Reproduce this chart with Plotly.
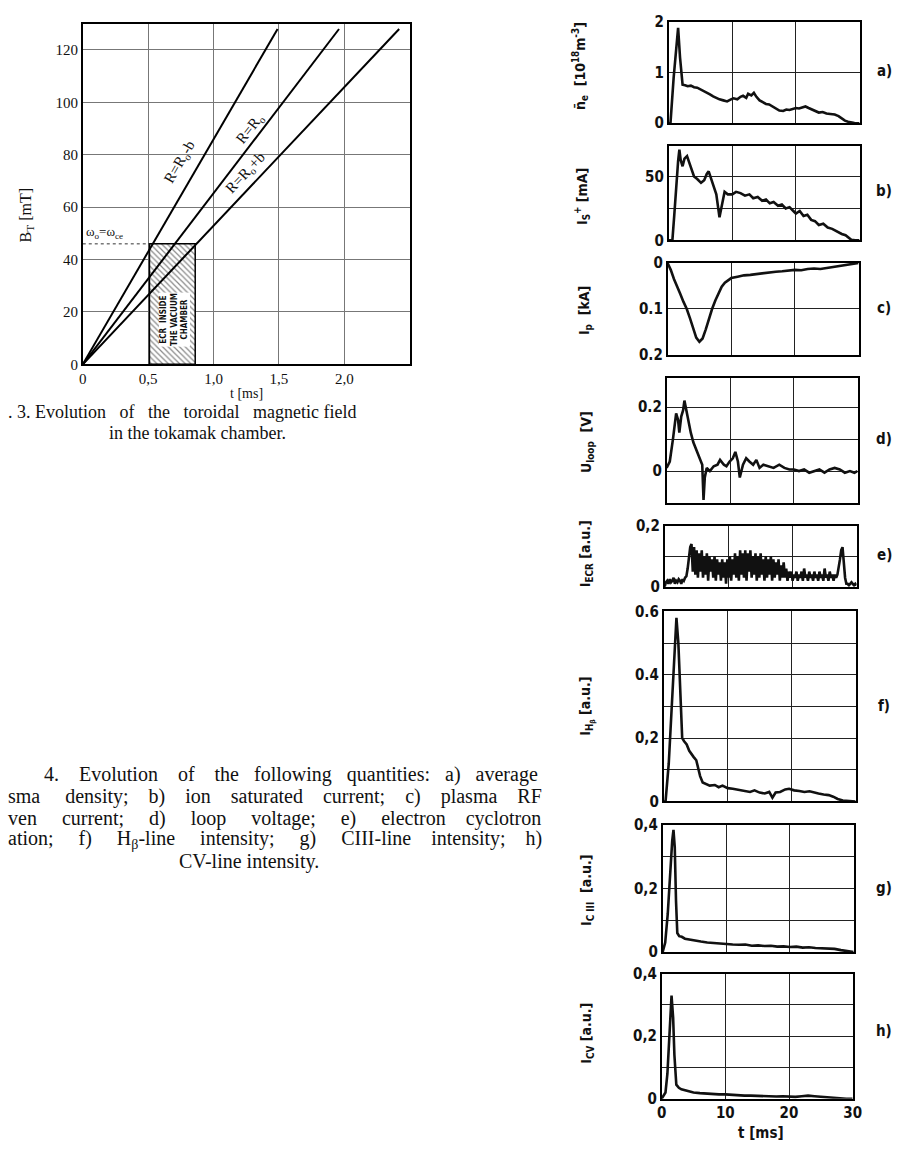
import plotly.graph_objects as go
import numpy as np

W, H = 904, 1154

# ---------------- Fig. 3 data ----------------
line_names = ["R=R<sub>o</sub>-b", "R=R<sub>o</sub>", "R=R<sub>o</sub>+b"]
line_t = [[0, 1.49], [0, 1.96], [0, 2.42]]
line_B = [[0, 128], [0, 128], [0, 128]]
ecr_t = [0.51, 0.86]
ecr_B = [0, 46]
x3_ticks = [0, 0.5, 1.0, 1.5, 2.0]
x3_text = ["0", "0,5", "1,0", "1,5", "2,0"]
y3_ticks = [0, 20, 40, 60, 80, 100, 120]

# ---------------- Fig. 4 data ----------------
t_a = [0, 0.3, 0.8, 1.2, 1.5, 1.8, 2.2, 2.6, 3, 3.5, 4, 4.5, 5, 5.5, 6, 6.5, 7, 7.5, 8, 8.6,
       9.2, 9.8, 10.2, 10.8, 11.3, 11.7, 12.2, 12.5, 13, 13.4, 13.8, 14.3, 14.8, 15.3, 15.8, 16.4,
       17, 17.4, 18, 18.5, 19, 19.5, 20, 20.5, 21, 21.5, 22, 22.5, 23, 23.6, 24.2, 24.8, 25.4,
       26.1, 26.7, 27.2, 27.7, 28.2, 28.7, 29.2, 30]
ne = [0, 0, 0.9, 1.5, 1.88, 1.3, 0.76, 0.75, 0.73, 0.74, 0.71, 0.70, 0.67, 0.64, 0.60, 0.57,
      0.53, 0.50, 0.47, 0.45, 0.43, 0.47, 0.49, 0.47, 0.52, 0.54, 0.50, 0.58, 0.55, 0.60, 0.52,
      0.45, 0.41, 0.38, 0.37, 0.33, 0.28, 0.25, 0.24, 0.27, 0.26, 0.28, 0.30, 0.29, 0.31, 0.33,
      0.30, 0.27, 0.24, 0.21, 0.22, 0.19, 0.18, 0.17, 0.14, 0.10, 0.05, 0.03, 0.01, 0.005, 0]

t_b = [0, 0.6, 0.9, 1.2, 1.5, 1.7, 1.9, 2.2, 2.5, 2.9, 3.3, 3.7, 4.0, 4.5, 5.1, 5.6, 6.0, 6.3,
       6.7, 7.1, 7.5, 8.0, 8.4, 8.8, 9.3, 10, 10.6, 11.3, 12, 12.7, 13.3, 14, 14.7, 15.3, 15.9,
       16.5, 17.2, 17.8, 18.4, 19, 19.6, 20, 20.6, 21.2, 21.8, 22.4, 23, 23.6, 24.3, 25, 25.7,
       26.4, 27.2, 27.8, 28.3, 28.7, 29.3, 30]
i_sat = [0, 0, 20, 45, 62, 71, 63, 58, 64, 66, 60, 55, 50, 48, 45, 47, 52, 54, 48, 42, 36, 18,
         28, 38, 36, 36, 38, 37, 35, 36, 33, 34, 31, 32, 29, 30, 27, 28, 25, 26, 23, 21, 23, 19,
         20, 16, 15, 12, 13, 10, 9, 7, 5, 4, 2, 0.5, 0, 0]

t_c = [0, 0.5, 1, 1.5, 2, 2.5, 3, 3.5, 4, 4.5, 5, 5.5, 6, 6.5, 7, 7.5, 8, 8.5, 9, 9.5, 10,
       11, 12, 13, 14, 15, 16, 17, 18, 19, 20, 21, 22, 23, 24, 25, 26, 27, 28, 29, 30]
i_p = [0, 0.015, 0.035, 0.05, 0.068, 0.085, 0.1, 0.12, 0.14, 0.163, 0.172, 0.165, 0.145, 0.12,
       0.1, 0.082, 0.065, 0.052, 0.043, 0.037, 0.033, 0.03, 0.027, 0.026, 0.024, 0.022, 0.021,
       0.019, 0.018, 0.016, 0.015, 0.016, 0.013, 0.012, 0.013, 0.011, 0.009, 0.007, 0.004,
       0.002, 0]

t_d = [0, 0.5, 1.0, 1.5, 1.8, 2.0, 2.3, 2.6, 2.8, 3.1, 3.4, 3.8, 4.2, 4.6, 4.9, 5.3, 5.6, 5.8,
       6.0, 6.3, 6.8, 7.4, 8.0, 8.4, 9.0, 9.4, 9.9, 10.4, 10.8, 11.2, 11.5, 12.0, 12.5, 13.0,
       13.6, 14.1, 14.6, 15.2, 16.0, 16.8, 17.7, 18.5, 19.3, 20.0, 20.8, 21.6, 22.4, 23.2, 24.0,
       24.8, 25.6, 26.4, 27.2, 28.0, 28.8, 29.5, 30]
u_loop = [0.01, 0.03, 0.1, 0.18, 0.16, 0.12, 0.17, 0.19, 0.22, 0.19, 0.15, 0.12, 0.09, 0.07,
          0.05, 0.03, 0.02, -0.09, -0.02, 0.01, 0.0, 0.015, 0.02, 0.035, 0.02, 0.015, 0.03, 0.04,
          0.06, 0.03, -0.02, 0.02, 0.04, 0.03, 0.02, 0.035, 0.01, 0.02, 0.015, 0.01, 0.02, 0.01,
          0.005, 0.005, 0.0, 0.005, -0.005, 0.0, 0.005, -0.005, 0.005, 0.01, 0.005, -0.005, 0.0,
          -0.005, 0.0]

# ECR signal sampled every 0.2 ms
i_ecr = [0.0, 0.015, 0.02, 0.01, 0.025, 0.015, 0.02, 0.03, 0.01, 0.02, 0.015, 0.025, 0.02, 0.01,
         0.025, 0.02, 0.03, 0.035,
         0.06, 0.1, 0.13, 0.14,
         0.05, 0.13, 0.04, 0.12, 0.03, 0.11, 0.05, 0.12, 0.03, 0.10, 0.04, 0.11, 0.02, 0.10, 0.05,
         0.09, 0.03, 0.10, 0.02, 0.09, 0.04, 0.08, 0.02, 0.09, 0.03, 0.08, 0.01, 0.09, 0.03, 0.10,
         0.02, 0.09, 0.04, 0.11, 0.03, 0.10, 0.02, 0.12, 0.04, 0.11, 0.03, 0.12, 0.02, 0.11, 0.05,
         0.12, 0.03, 0.10, 0.04, 0.11, 0.02, 0.10, 0.03, 0.11, 0.04, 0.09, 0.02, 0.10, 0.03, 0.09,
         0.04, 0.10, 0.02, 0.09, 0.03, 0.08, 0.04, 0.09, 0.02, 0.07, 0.03, 0.08, 0.03, 0.06, 0.02,
         0.05, 0.03, 0.05,
         0.02, 0.04, 0.03, 0.05, 0.02, 0.04, 0.03, 0.05, 0.02, 0.06, 0.03, 0.04, 0.02, 0.05, 0.03,
         0.04, 0.02, 0.05, 0.03, 0.04, 0.02, 0.05, 0.03, 0.04, 0.02, 0.06, 0.03, 0.04, 0.02, 0.05,
         0.03, 0.04, 0.02, 0.04, 0.03, 0.04, 0.06, 0.09, 0.12, 0.13, 0.08, 0.03, 0.01, 0.01, 0.005,
         0.01, 0.015, 0.01, 0.005, 0.01, 0.005]
t_e = list(np.round(np.arange(len(i_ecr)) * 0.2, 1))

t_f = [0, 0.3, 0.8, 1.3, 1.7, 2.0, 2.3, 2.6, 2.9, 3.2, 3.6, 4.0, 4.3, 4.7, 5.1, 5.4, 5.7, 6.1,
       6.6, 7.2, 8.0, 8.6, 9.2, 10, 10.8, 11.5, 12.2, 12.8, 13.5, 14.2, 15, 15.8, 16.5, 17, 17.5,
       18.2, 19, 19.6, 20.4, 21.2, 22, 22.8, 23.5, 24.2, 25, 25.8, 26.5, 27.2, 28, 29, 30]
i_hb = [0, 0.0, 0.12, 0.3, 0.48, 0.58, 0.5, 0.32, 0.2, 0.19, 0.18, 0.16, 0.15, 0.14, 0.13, 0.1,
        0.08, 0.06, 0.055, 0.05, 0.052, 0.045, 0.05, 0.042, 0.04, 0.038, 0.035, 0.033, 0.03,
        0.035, 0.028, 0.025, 0.03, 0.012, 0.028, 0.03, 0.038, 0.04, 0.035, 0.033, 0.03, 0.032,
        0.028, 0.025, 0.022, 0.02, 0.015, 0.008, 0.003, 0.001, 0]

t_g = [0, 0.4, 0.8, 1.2, 1.5, 1.7, 1.9, 2.1, 2.3, 2.6, 3, 3.5, 4, 5, 6, 7, 8, 9, 10, 11, 12, 13,
       14, 15, 16, 17, 18, 19, 20, 21, 22, 23, 24, 25, 26, 27, 28, 29, 30]
i_c3 = [0, 0.03, 0.12, 0.26, 0.35, 0.385, 0.33, 0.16, 0.06, 0.05, 0.048, 0.042, 0.04, 0.035,
        0.033, 0.03, 0.028, 0.027, 0.025, 0.024, 0.023, 0.024, 0.02, 0.021, 0.019, 0.02, 0.017,
        0.018, 0.016, 0.017, 0.014, 0.015, 0.013, 0.012, 0.011, 0.01, 0.006, 0.002, 0]

t_h = [0, 0.3, 0.6, 0.9, 1.2, 1.55, 1.8, 2.0, 2.3, 2.7, 3.1, 4, 5, 6, 7, 8, 9, 10, 11, 12, 13,
       14, 15, 16, 17, 18, 19, 20, 21, 22, 23, 24, 25, 26, 27, 28, 29, 30]
i_c5 = [0, 0.01, 0.02, 0.08, 0.22, 0.33, 0.26, 0.14, 0.045, 0.035, 0.03, 0.025, 0.02, 0.018,
        0.016, 0.015, 0.014, 0.014, 0.012, 0.011, 0.01, 0.01, 0.009, 0.008, 0.008, 0.007, 0.008,
        0.007, 0.006, 0.008, 0.01, 0.008, 0.006, 0.005, 0.004, 0.002, 0.0, 0.0]

x4_ticks = [0, 10, 20, 30]

panels = [
    # key, t, y, ylabel, panel label, yrange, tickvals, ticktext
    ("a", t_a, ne, "n\u0304<sub>e</sub>  [10<sup>18</sup>m<sup>-3</sup>]", "a)", [0, 2], [0, 1, 2], ["0", "1", "2"]),
    ("b", t_b, i_sat, "I<sub>S</sub><sup>+</sup> [mA]", "b)", [0, 74], [0, 25, 50], ["0", "", "50"]),
    ("c", t_c, i_p, "I<sub>p</sub>  [kA]", "c)", [0.2, 0], [0, 0.1, 0.2], ["0", "0.1", "0.2"]),
    ("d", t_d, u_loop, "U<sub>loop</sub>  [V]", "d)", [-0.1, 0.29], [0, 0.1, 0.2], ["0", "", "0.2"]),
    ("e", t_e, i_ecr, "I<sub>ECR</sub> [a.u.]", "e)", [0, 0.2], [0, 0.1, 0.2], ["0", "", "0,2"]),
    ("f", t_f, i_hb, "I<sub>H<sub>\u03b2</sub></sub> [a.u.]", "f)", [0, 0.6], [0, 0.1, 0.2, 0.3, 0.4, 0.5, 0.6], ["0", "", "0,2", "", "0.4", "", "0.6"]),
    ("g", t_g, i_c3, "I<sub>C III</sub>  [a.u.]", "g)", [0, 0.4], [0, 0.1, 0.2, 0.3, 0.4], ["0", "", "0,2", "", "0,4"]),
    ("h", t_h, i_c5, "I<sub>CV</sub> [a.u.]", "h)", [0, 0.4], [0, 0.1, 0.2, 0.3, 0.4], ["0", "", "0,2", "", "0,4"]),
]

# ---------------- layout geometry (page pixels) ----------------
def px(x):
    return x / W

def py(y):
    return 1 - y / H

def dx(l, r):
    return [px(l), px(r)]

def dy(top, bottom):
    return [py(bottom), py(top)]

SERIF = "Liberation Serif, DejaVu Serif, serif"
COND = "DejaVu Sans Condensed, Liberation Sans Narrow, DejaVu Sans, sans-serif"
NB = "\u00a0"

panel_geom = [  # left, right, top, bottom
    (674, 868, 13, 116),
    (674, 868, 139, 235),
    (673, 867, 258, 351),
    (672, 866, 375, 502),
    (670, 865, 525, 587),
    (669, 864, 612, 805),
    (668, 862, 829, 958),
    (667, 861, 980, 1107),
]
ylabel_pos = [(584, 58), (586, 190), (589, 306), (591, 440), (591, 553), (591, 708), (591, 895), (591, 1040)]
plabel_y = [63, 185, 304, 437, 555, 708, 893, 1038]

fig = go.Figure()

# ---- Fig. 3 traces ----
fig.add_trace(go.Scatter(
    x=[ecr_t[0], ecr_t[1], ecr_t[1], ecr_t[0], ecr_t[0]],
    y=[ecr_B[0], ecr_B[0], ecr_B[1], ecr_B[1], ecr_B[0]],
    fill="toself", mode="lines",
    fillpattern=dict(shape="\\", fgcolor="#111", bgcolor="white", size=4, solidity=0.3),
    line=dict(color="black", width=1.5), xaxis="x", yaxis="y", showlegend=False, hoverinfo="skip"))
fig.add_trace(go.Scatter(x=[0, ecr_t[0]], y=[ecr_B[1], ecr_B[1]], mode="lines",
                         line=dict(color="#333", width=1, dash="dot"), xaxis="x", yaxis="y",
                         showlegend=False))
for lt, lb in zip(line_t, line_B):
    fig.add_trace(go.Scatter(x=lt, y=lb, mode="lines", line=dict(color="black", width=2),
                             xaxis="x", yaxis="y", showlegend=False))

# ---- Fig. 4 traces ----
for i, (key, t, v, *_rest) in enumerate(panels):
    n = i + 2
    fig.add_trace(go.Scatter(x=t, y=v, mode="lines", line=dict(color="#111", width=2.6),
                             xaxis=f"x{n}", yaxis=f"y{n}", showlegend=False))

layout = dict(
    width=W, height=H, margin=dict(l=0, r=0, t=0, b=0),
    paper_bgcolor="white", plot_bgcolor="white", showlegend=False,
)

axis_common = dict(showline=True, mirror=True, linecolor="black", linewidth=1.5,
                   showgrid=True, gridcolor="#555", gridwidth=1, zeroline=False, ticks="")

layout["xaxis"] = dict(axis_common, domain=dx(79, 411), range=[0, 2.5], tickvals=x3_ticks,
                       ticktext=x3_text, tickfont=dict(family=SERIF, size=15, color="#111"),
                       anchor="y", gridcolor="#777")
layout["yaxis"] = dict(axis_common, domain=dy(15, 361), range=[0, 130], tickvals=y3_ticks,
                       tickfont=dict(family=SERIF, size=15, color="#111"), anchor="x",
                       gridcolor="#777")

for i, (key, t, v, ylab, plab, yr, tv, tt) in enumerate(panels):
    n = i + 2
    l, r, tp, bt = panel_geom[i]
    layout[f"xaxis{n}"] = dict(axis_common, domain=dx(l, r), range=[0, 30], tickvals=x4_ticks,
                               showticklabels=(key == "h"), anchor=f"y{n}", gridcolor="#222",
                               tickfont=dict(family=COND, size=15, color="#111", weight="bold"))
    layout[f"yaxis{n}"] = dict(axis_common, domain=dy(tp, bt), range=yr, tickvals=tv, ticktext=tt,
                               anchor=f"x{n}", gridcolor="#222",
                               tickfont=dict(family=COND, size=15, color="#111", weight="bold"))

ann = []

def note(x, y, text, font, xref="paper", yref="paper", xanchor="center", angle=0, **kw):
    if xref == "paper":
        x = px(x)
    if yref == "paper":
        y = py(y)
    d = dict(x=x, y=y, xref=xref, yref=yref, text=text, showarrow=False, xanchor=xanchor,
             yanchor="middle", textangle=angle, font=font)
    d.update(kw)
    ann.append(d)

serif = lambda s: dict(family=SERIF, size=s, color="#111")
cond = lambda s: dict(family=COND, size=s, color="#111", weight="bold")

# Fig. 3 labels
note(22, 210, "B<sub>T</sub> [mT]", serif(16), angle=-90)
note(245, 391, "t [ms]", serif(14))
label_pos = [(0.74, 77, -60), (1.28, 90, -52), (1.25, 73, -47)]
for name, (lx, ly, ang) in zip(line_names, label_pos):
    note(lx, ly, name, serif(15), xref="x", yref="y", angle=ang)
note(0.01, 50.5, "\u03c9<sub>o</sub>=\u03c9<sub>ce</sub>", serif(13), xref="x", yref="y",
     xanchor="left")
note(0.70, 17, "ECR" + NB * 2 + "INSIDE<br>THE VACUUM<br>CHAMBER", dict(family=COND, size=8,
     color="#111", weight="bold"), xref="x", yref="y", angle=-90, bgcolor="white", borderpad=0)

# Fig. 3 caption
g3 = NB * 2 + " "
note(1, 409, ". 3. Evolution" + g3 + "of" + g3 + "the" + g3 + "toroidal" + g3 + "magnetic field",
     serif(18), xanchor="left")
note(196, 431, "in the tokamak chamber.", serif(18))

# Fig. 4 labels
for i, (key, t, v, ylab, plab, yr, tv, tt) in enumerate(panels):
    xl, yl = ylabel_pos[i]
    note(xl, yl, ylab, cond(14), angle=-90)
    note(893, plabel_y[i], plab, cond(15))
note(768, 1142, "t [ms]", cond(15))

# Fig. 4 caption: justified column, extra non-breaking spaces spread over the word gaps
def just(words, extra):
    gaps = len(words) - 1
    out = words[0]
    for k in range(gaps):
        n = extra // gaps + (1 if k < extra % gaps else 0)
        out += NB * n + " " + words[k + 1]
    return out

cap_lines = [
    (38, 778, "left", just("4. Evolution of the following quantities: a) average".split(" "), 17)),
    (1, 800, "left", just("sma density; b) ion saturated current; c) plasma RF".split(" "), 25)),
    (1, 822, "left", just("ven current; d) loop voltage; e) electron cyclotron".split(" "), 27)),
    (1, 844, "left", just(["ation;", "f)", "H<sub>\u03b2</sub>-line", "intensity;", "g)",
                           "CIII-line", "intensity;", "h)"], 26)),
    (248, 866, "center", "CV-line intensity."),
]
for cx, cy, anc, txt in cap_lines:
    note(cx, cy, txt, serif(20), xanchor=anc)

layout["annotations"] = ann
fig.update_layout(**layout)
fig.write_html(
    "out.html",
    config={"displayModeBar": False},
    post_script="document.documentElement.style.margin='0';document.body.style.margin='0';"
                "document.documentElement.style.overflow='hidden';document.body.style.overflow='hidden';",
)
